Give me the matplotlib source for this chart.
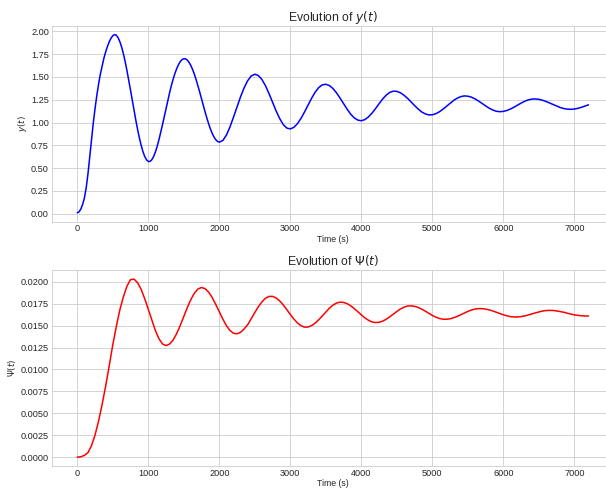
import numpy as np
import matplotlib
matplotlib.use("Agg")
import matplotlib.pyplot as plt

# Tiempos de muestreo (s)
time_y = np.concatenate([np.arange(0, 2001, 25), np.arange(2050, 7201, 50)])
time_psi = np.arange(0, 7201, 50)

# y(t) (25 s hasta 2000, luego 50 s)
y_vals = [
    0.01, 0.02, 0.05, 0.10, 0.17, 0.28, 0.43, 0.62, 0.81, 0.99,
    1.15, 1.295, 1.42, 1.53, 1.62, 1.705, 1.775, 1.835, 1.885, 1.925,
    1.952, 1.965, 1.958, 1.931, 1.887, 1.828, 1.754, 1.667, 1.570, 1.465,
    1.356, 1.244, 1.132, 1.025, 0.924, 0.831, 0.750, 0.681, 0.628, 0.592,
    0.573, 0.573, 0.592, 0.626, 0.675, 0.737, 0.810, 0.890, 0.975, 1.063,
    1.152, 1.240, 1.325, 1.405, 1.475, 1.537, 1.590, 1.634, 1.668, 1.690,
    1.700, 1.699, 1.685, 1.660, 1.625, 1.581, 1.528, 1.468, 1.402, 1.333,
    1.261, 1.189, 1.118, 1.050, 0.987, 0.931, 0.882, 0.842, 0.812, 0.793,
    0.785,
    0.803, 0.862, 0.950, 1.058, 1.172, 1.283, 1.381, 1.459, 1.511, 1.530,
    1.516, 1.473, 1.405, 1.319, 1.223, 1.129, 1.045, 0.979, 0.940, 0.930,
    0.947, 0.987, 1.044, 1.115, 1.191, 1.266, 1.332, 1.383, 1.413, 1.420,
    1.406, 1.374, 1.327, 1.270, 1.208, 1.147, 1.093, 1.052, 1.027, 1.020,
    1.032, 1.061, 1.102, 1.152, 1.206, 1.257, 1.300, 1.330, 1.344, 1.342,
    1.327, 1.301, 1.267, 1.227, 1.187, 1.149, 1.117, 1.095, 1.084, 1.085,
    1.097, 1.118, 1.146, 1.178, 1.211, 1.242, 1.267, 1.284, 1.292, 1.289,
    1.279, 1.260, 1.237, 1.210, 1.183, 1.158, 1.138, 1.124, 1.119, 1.122,
    1.132, 1.148, 1.168, 1.191, 1.213, 1.233, 1.248, 1.257, 1.259, 1.255,
    1.245, 1.232, 1.215, 1.198, 1.180, 1.165, 1.154, 1.147, 1.145, 1.148,
    1.156, 1.167, 1.180, 1.194,
]

# Psi(t) (cada 50 s)
psi_vals = [
    0.0, 0.00003, 0.0002, 0.0005, 0.0013, 0.0025, 0.0041, 0.0060, 0.0081, 0.0104,
    0.0128, 0.0149, 0.0168, 0.0183, 0.0195, 0.02025, 0.0203, 0.0199, 0.01913, 0.01808,
    0.01686, 0.0156, 0.01445, 0.01352, 0.01291, 0.01272, 0.01289, 0.01336, 0.01409, 0.01501,
    0.01604, 0.01706, 0.01798, 0.01871, 0.01918, 0.01935, 0.01922, 0.01882, 0.01821, 0.01743,
    0.01658, 0.01575, 0.01501, 0.01445, 0.01413, 0.01407, 0.01424, 0.01462, 0.0151, 0.0158,
    0.01649, 0.01715, 0.0177, 0.01812, 0.01833, 0.01834, 0.01816, 0.01783, 0.01737, 0.01684,
    0.01628, 0.01576, 0.01531, 0.01500, 0.01483, 0.01484, 0.01500, 0.01528, 0.01566, 0.01610,
    0.01655, 0.01698, 0.01733, 0.01757, 0.01768, 0.01765, 0.01751, 0.01727, 0.01695, 0.01660,
    0.01623, 0.01589, 0.01562, 0.01543, 0.01535, 0.01538, 0.01551, 0.01572, 0.01600, 0.01631,
    0.01661, 0.01689, 0.01710, 0.01723, 0.01726, 0.01720, 0.01708, 0.01689, 0.01666, 0.01641,
    0.01617, 0.01597, 0.01582, 0.01573, 0.01573, 0.01578, 0.01590, 0.01605, 0.01624, 0.01643,
    0.01662, 0.01678, 0.01689, 0.01694, 0.01694, 0.01689, 0.01680, 0.01668, 0.01653, 0.01638,
    0.01624, 0.01612, 0.01603, 0.01599, 0.01599, 0.01603, 0.01610, 0.01621, 0.01633, 0.01645,
    0.01656, 0.01666, 0.01672, 0.01674, 0.01673, 0.01668, 0.01661, 0.01653, 0.01642, 0.01633,
    0.01623, 0.01617, 0.01612, 0.01610, 0.01611,
]

plt.style.use("seaborn-v0_8-whitegrid")
plt.rcParams["font.family"] = ["Liberation Sans", "DejaVu Sans"]
plt.rcParams["axes.linewidth"] = 0.6
plt.rcParams["grid.linewidth"] = 0.6

fig = plt.figure(figsize=(6.06, 4.90), dpi=100)
ax1 = fig.add_axes([0.0853, 0.5476, 0.928, 0.400])
ax2 = fig.add_axes([0.0853, 0.0490, 0.928, 0.3994])

for ax, t, vals, color, name in [(ax1, time_y, y_vals, "blue", r"y(t)"),
                                 (ax2, time_psi, psi_vals, "red", r"\Psi(t)")]:
    ax.plot(t, vals, color=color, lw=1.1)
    ax.set_title(f"Evolution of ${name}$", fontsize=8.8, pad=3.6)
    ax.set_xlabel("Time (s)", fontsize=6.3, labelpad=1.2)
    ax.set_ylabel(f"${name}$", fontsize=6.3, labelpad=1.8)
    ax.tick_params(labelsize=6.6, pad=2.0)

fig.savefig("out.png", dpi=100)
